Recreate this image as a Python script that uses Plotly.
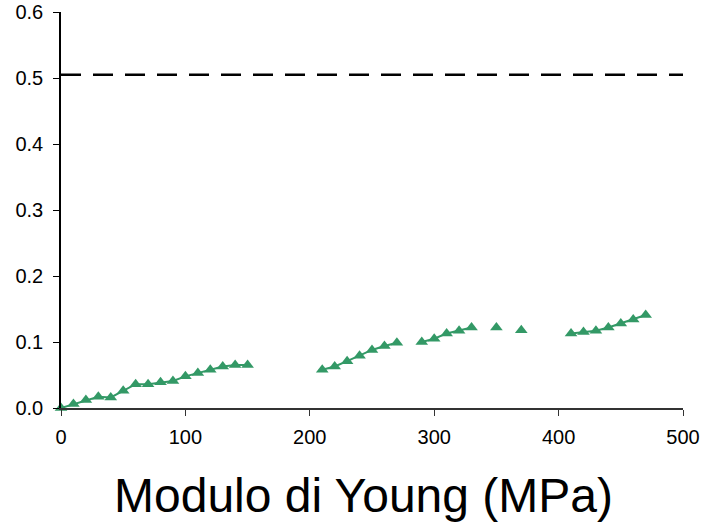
import plotly.graph_objects as go

# Data (None = break in line)
x_vals = [0, 10, 20, 30, 40, 50, 60, 70, 80, 90, 100, 110, 120, 130, 140, 150, None,
          210, 220, 230, 240, 250, 260, 270, None,
          290, 300, 310, 320, 330, None,
          350, None,
          370, None,
          410, 420, 430, 440, 450, 460, 470]
y_vals = [0.0, 0.006, 0.012, 0.017, 0.016, 0.026, 0.036, 0.036, 0.039, 0.041, 0.048, 0.053, 0.058, 0.063, 0.065, 0.065, None,
          0.058, 0.063, 0.071, 0.079, 0.088, 0.094, 0.099, None,
          0.100, 0.105, 0.113, 0.117, 0.122, None,
          0.122, None,
          0.118, None,
          0.113, 0.115, 0.117, 0.122, 0.128, 0.134, 0.141]
ref_x = [0, 500]
ref_y = [0.505, 0.505]

x_ticks = [0, 100, 200, 300, 400, 500]
y_ticks = [0.0, 0.1, 0.2, 0.3, 0.4, 0.5, 0.6]
x_title = "Modulo di Young (MPa)"

green = "#339966"

fig = go.Figure()
fig.add_trace(go.Scatter(x=ref_x, y=ref_y, mode="lines",
                         line=dict(color="black", width=2.5, dash="20px,12px"),
                         hoverinfo="skip", showlegend=False, cliponaxis=False))
fig.add_trace(go.Scatter(x=x_vals, y=y_vals, mode="lines+markers", connectgaps=False,
                         line=dict(color=green, width=2),
                         marker=dict(symbol="triangle-up", size=11, color=green),
                         showlegend=False, cliponaxis=False))

fig.update_layout(
    width=715, height=525,
    margin=dict(l=61, r=32, t=12, b=117),
    plot_bgcolor="white", paper_bgcolor="white",
    font=dict(family="Liberation Sans, Arial, sans-serif", color="black", size=20),
    annotations=[dict(text=x_title, xref="paper", yref="paper",
                      x=(363 - 61) / 622, y=-(495 - 408) / 396,
                      xanchor="center", yanchor="middle", showarrow=False,
                      font=dict(size=48, color="black"))],
)
fig.update_xaxes(range=[0, 500], tickvals=x_ticks, showgrid=False, zeroline=False,
                 showline=True, linecolor="#333333", linewidth=1.5, automargin=False,
                 ticks="outside", ticklen=6, tickcolor="#333333", ticklabelstandoff=4,
                 ticklabeloverflow="allow")
fig.update_yaxes(range=[0, 0.6001], tickvals=y_ticks, tickformat=".1f", showgrid=False,
                 zeroline=False, showline=True, linecolor="black", linewidth=1.5,
                 automargin=False, ticks="outside", ticklen=6, tickcolor="black",
                 ticklabelstandoff=6, ticklabeloverflow="allow")

fig.write_html("out.html", config={"displayModeBar": False},
               post_script="document.body.style.margin='0';")
